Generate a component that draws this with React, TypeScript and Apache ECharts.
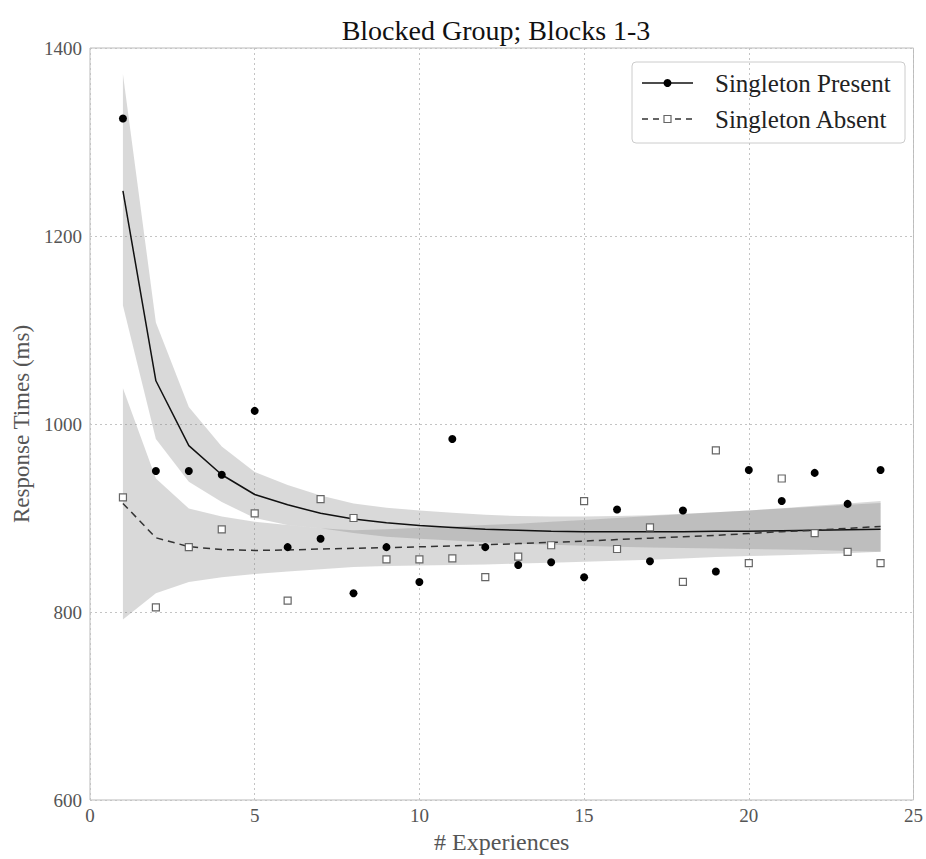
import React, { useEffect, useRef } from "react";
import * as echarts from "echarts";

const experiences = [1, 2, 3, 4, 5, 6, 7, 8, 9, 10, 11, 12, 13, 14, 15, 16, 17, 18, 19, 20, 21, 22, 23, 24];

const presentRT = [1325, 950, 950, 946, 1014, 869, 878, 820, 869, 832, 984, 869, 850, 853, 837, 909, 854, 908, 843, 951, 918, 948, 915, 951];
const absentRT = [922, 805, 869, 888, 905, 812, 920, 900, 856, 856, 857, 837, 859, 871, 918, 867, 890, 832, 972, 852, 942, 884, 864, 852];

const presentFit = [1248, 1046, 977, 946, 925, 914, 905, 899, 895, 892, 890, 888, 887, 886, 885.5, 885.5, 885.5, 885.5, 886, 886, 886.5, 887, 887.5, 888];
const absentFit = [915.5, 879, 869.5, 866.5, 865.5, 866, 867, 867.8, 868.5, 869.3, 870.3, 871.5, 872.8, 874, 875.5, 877, 878.5, 880, 881.5, 883.5, 885.5, 887, 889, 891];

const presentUpper = [1372, 1108, 1018, 976, 949, 935, 924, 915.5, 911, 908, 905.5, 903.5, 902, 901.5, 901.5, 902, 903, 904.5, 906, 908, 910, 912, 914, 916];
const presentLower = [1126, 984, 938.5, 917, 900, 892.5, 889, 884, 880, 878, 876, 874, 872.5, 871.5, 870.5, 869.5, 868.5, 868, 867.5, 867, 866.5, 866, 865, 864];
const absentUpper = [1038, 942, 910, 901.5, 896, 892.5, 889, 887, 888, 889.5, 891, 892.5, 894, 896, 898, 900, 902, 904, 906, 908, 910.5, 913, 915.5, 918];
const absentLower = [792, 820, 832, 837, 840.5, 843, 845.5, 848, 849, 849.5, 850, 850.5, 851.5, 852.5, 853.5, 854.5, 855.5, 857, 858.5, 859.5, 860.5, 861.5, 862.5, 864];

const titleText = "Blocked Group; Blocks 1-3";
const xName = "# Experiences";
const yName = "Response Times (ms)";
const legendPresent = "Singleton Present";
const legendAbsent = "Singleton Absent";

const FONT = '"Liberation Serif", "DejaVu Serif", serif';

function bandSeries(name: string, lower: number[], upper: number[]) {
  return {
    type: "custom",
    name,
    silent: true,
    z: 1,
    data: experiences.map((x, i) => [x, lower[i], upper[i]]),
    encode: { x: 0, y: [1, 2] },
    renderItem: (params: any, api: any) => {
      if (params.dataIndex !== 0) return null;
      const pts: number[][] = [];
      for (let i = 0; i < experiences.length; i++) pts.push(api.coord([experiences[i], upper[i]]));
      for (let i = experiences.length - 1; i >= 0; i--) pts.push(api.coord([experiences[i], lower[i]]));
      return {
        type: "polygon",
        shape: { points: pts },
        style: { fill: "rgba(128,128,128,0.3)", stroke: "none" },
      };
    },
  };
}

export default function App() {
  const ref = useRef<HTMLDivElement>(null);
  useEffect(() => {
    if (!ref.current) return;
    const chart = echarts.init(ref.current, undefined, { renderer: "svg" });
    chart.setOption({
      animation: false,
      textStyle: { fontFamily: FONT },
      grid: {
        left: 90,
        right: 10,
        top: 48,
        bottom: 56,
        show: true,
        borderColor: "#bbbbbb",
        borderWidth: 1,
        backgroundColor: "transparent",
      },
      xAxis: {
        type: "value",
        min: 0,
        max: 25,
        interval: 5,
        name: xName,
        nameLocation: "middle",
        nameGap: 30,
        nameTextStyle: { fontSize: 24, color: "#555", fontFamily: FONT },
        axisLine: { show: false },
        axisTick: { show: false },
        axisLabel: { fontSize: 19, color: "#555", margin: 6, fontFamily: FONT, formatter: (v: number) => String(v) },
        splitLine: { show: true, lineStyle: { color: "#c4c4c4", type: [2, 3], width: 1 } },
      },
      yAxis: {
        type: "value",
        min: 600,
        max: 1400,
        interval: 200,
        name: yName,
        nameLocation: "middle",
        nameGap: 56,
        nameRotate: 90,
        nameTextStyle: { fontSize: 23, color: "#555", fontFamily: FONT },
        axisLine: { show: false },
        axisTick: { show: false },
        axisLabel: { fontSize: 19, color: "#555", margin: 8, fontFamily: FONT, formatter: (v: number) => String(v) },
        splitLine: { show: true, lineStyle: { color: "#c4c4c4", type: [2, 3], width: 1 } },
      },
      graphic: [
        {
          type: "text",
          x: 496,
          y: 30,
          style: {
            text: titleText,
            font: `28px ${FONT}`,
            fill: "#111",
            align: "center",
            verticalAlign: "middle",
          },
        },
        {
          type: "group",
          children: [
            {
              type: "rect",
              shape: { x: 632, y: 62, width: 273, height: 81, r: 4 },
              style: { fill: "rgba(255,255,255,0.2)", stroke: "#cccccc", lineWidth: 1 },
            },
            {
              type: "line",
              shape: { x1: 642, y1: 83, x2: 693, y2: 83 },
              style: { stroke: "#111", lineWidth: 1.5 },
            },
            {
              type: "circle",
              shape: { cx: 667.5, cy: 83, r: 4 },
              style: { fill: "#000" },
            },
            {
              type: "text",
              x: 715,
              y: 83,
              style: { text: legendPresent, font: `25px ${FONT}`, fill: "#222", verticalAlign: "middle" },
            },
            {
              type: "line",
              shape: { x1: 642, y1: 119, x2: 693, y2: 119 },
              style: { stroke: "#333", lineWidth: 1.3, lineDash: [6, 5] },
            },
            {
              type: "rect",
              shape: { x: 664, y: 115.5, width: 7, height: 7 },
              style: { fill: "#fff", stroke: "#666", lineWidth: 1.2 },
            },
            {
              type: "text",
              x: 715,
              y: 119,
              style: { text: legendAbsent, font: `25px ${FONT}`, fill: "#222", verticalAlign: "middle" },
            },
          ],
        },
      ],
      series: [
        bandSeries("presentBand", presentLower, presentUpper),
        bandSeries("absentBand", absentLower, absentUpper),
        {
          type: "line",
          name: "presentFit",
          z: 3,
          data: experiences.map((x, i) => [x, presentFit[i]]),
          showSymbol: false,
          symbol: "none",
          lineStyle: { color: "#111", width: 1.5 },
        },
        {
          type: "line",
          name: "absentFit",
          z: 3,
          data: experiences.map((x, i) => [x, absentFit[i]]),
          showSymbol: false,
          symbol: "none",
          lineStyle: { color: "#333", width: 1.5, type: [7, 5] },
        },
        {
          type: "scatter",
          name: legendAbsent,
          z: 4,
          symbol: "rect",
          symbolSize: 7,
          data: experiences.map((x, i) => [x, absentRT[i]]),
          itemStyle: { color: "#fff", borderColor: "#666", borderWidth: 1.2, opacity: 1 },
        },
        {
          type: "scatter",
          name: legendPresent,
          z: 5,
          symbol: "circle",
          symbolSize: 8,
          data: experiences.map((x, i) => [x, presentRT[i]]),
          itemStyle: { color: "#000", opacity: 1 },
        },
      ],
    });
    return () => chart.dispose();
  }, []);
  return (
    <div
      ref={ref}
      style={{ position: "fixed", left: 0, top: 0, width: 926, height: 859, background: "#fff" }}
    />
  );
}
